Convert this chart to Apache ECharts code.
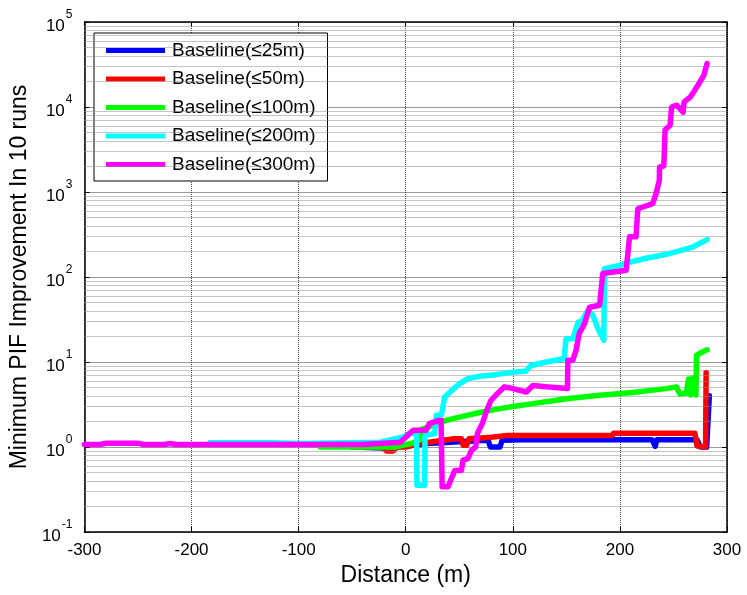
<!DOCTYPE html>
<html>
<head>
<meta charset="utf-8">
<script src="https://cdn.jsdelivr.net/npm/echarts@6/dist/echarts.min.js"></script>
<style>html,body{margin:0;padding:0;background:#fff;}#c{width:747px;height:595px;}</style>
</head>
<body>
<div id="c"></div>
<script>
const seriesNames = ['Baseline(≤25m)', 'Baseline(≤50m)', 'Baseline(≤100m)', 'Baseline(≤200m)', 'Baseline(≤300m)'];
const seriesColors = ['#0000ff', '#ff0000', '#00ff00', '#00ffff', '#ff00ff'];

const xTicks = [-300, -200, -100, 0, 100, 200, 300];
const yDecades = [-1, 0, 1, 2, 3, 4, 5];

const x25 = [-50, -20, -10, 0, 20, 50, 75, 77, 79, 88, 90, 110, 230, 231.5, 233, 234.5, 272, 275, 281, 282, 283.5];
const y25 = [1.0, 0.97, 1.0, 1.02, 1.1, 1.15, 1.2, 1.2, 1.0, 1.0, 1.2, 1.22, 1.22, 1.22, 1.02, 1.22, 1.22, 1.0, 1.0, 1.0, 4.0];

const x50 = [-50, -22, -18, -12, -8, 0, 10, 22, 45, 52, 53.5, 57, 59, 80, 95, 193, 194, 270, 272, 280, 280.5];
const y50 = [1.0, 1.0, 0.9, 0.9, 1.0, 1.0, 1.08, 1.14, 1.25, 1.25, 1.05, 1.05, 1.25, 1.3, 1.37, 1.37, 1.45, 1.45, 1.03, 1.0, 7.5];

const x100 = [-80, -40, -10, 5, 13, 14, 25, 31.7, 50, 69, 87.7, 100, 118.8, 150, 181, 212, 243, 252.6, 256, 262, 264, 266, 268, 271, 271.5, 277, 281.4];
const y100 = [1.0, 1.0, 1.0, 1.1, 1.2, 1.6, 1.8, 1.97, 2.25, 2.55, 2.83, 3.0, 3.24, 3.7, 4.06, 4.38, 4.86, 5.1, 4.2, 4.3, 6.3, 4.1, 6.5, 4.1, 12, 13.1, 13.9];

const x200 = [-183, -125, -100, -50, -24, -2.5, 3.7, 10, 10.5, 17.7, 18, 27, 28.6, 33.3, 36.4, 42.6, 50.4, 58, 69, 84, 100, 112, 117, 131, 148, 149.6, 156, 161, 164, 170, 174.8, 179.4, 185, 185.5, 187, 199.6, 205.8, 224.4, 246, 268, 281.4];
const y200 = [1.12, 1.12, 1.1, 1.12, 1.14, 1.31, 1.44, 1.44, 0.355, 0.355, 1.37, 1.44, 2.36, 2.4, 3.87, 4.6, 5.57, 6.38, 6.8, 7.1, 7.6, 7.8, 9.1, 10, 11, 18.8, 18.8, 29.5, 29.5, 40.5, 35.4, 24.7, 18, 125, 131, 137, 146, 166, 188, 225, 275];

const x300 = [-300, -285, -280, -250, -245, -225, -220, -215, -180, -100, -40, -24, -5, 0, 5, 7, 19, 22, 31, 33, 34, 39.5, 45.7, 52, 53.5, 58, 61.3, 65.3, 67, 71.6, 74.6, 79.3, 84, 92, 100, 112.6, 118.7, 131, 151, 151.4, 156, 159, 162, 167, 171.6, 181, 184, 205.8, 209, 215, 216.7, 230.6, 233.8, 236.8, 237, 241, 242.2, 246.8, 248.3, 253, 259, 260, 265.8, 269, 273.7, 278.3, 281.4];
const y300 = [1.07, 1.07, 1.11, 1.11, 1.07, 1.07, 1.1, 1.07, 1.07, 1.07, 1.07, 1.1, 1.14, 1.3, 1.5, 1.57, 1.57, 1.88, 2.06, 2.06, 0.34, 0.34, 0.53, 0.53, 0.70, 0.73, 0.91, 1.0, 1.45, 1.9, 2.47, 3.5, 4.06, 5.1, 4.87, 4.44, 5.3, 5.1, 4.87, 10.5, 10.5, 13.7, 21.6, 28.3, 44, 46.5, 110, 120, 297, 297, 635, 730, 960, 1380, 1960, 2030, 5380, 6070, 10000, 10500, 8700, 11500, 13100, 15100, 18800, 23500, 32400];

const allX = [x25, x50, x100, x200, x300];
const allY = [y25, y50, y100, y200, y300];

const FONT = 'Liberation Sans, Arial, sans-serif';

// minor grid values 2..9 x 10^k
const minorGrid = [];
for (let i = 0; i < yDecades.length - 1; i++) {
  for (let m = 2; m <= 9; m++) minorGrid.push(m * Math.pow(10, yDecades[i]));
}

const chart = echarts.init(document.getElementById('c'), null, {renderer: 'canvas'});

const dataSeries = seriesNames.map((n, i) => ({
  name: n,
  type: 'line',
  data: allX[i].map((x, j) => [x, allY[i][j]]),
  showSymbol: false,
  symbol: 'none',
  lineStyle: {color: seriesColors[i], width: 5.5, join: 'round', cap: 'round'},
  itemStyle: {color: seriesColors[i], borderWidth: 0},
  z: 3 + i,
  animation: false
}));

const minorSeries = {
  name: '__minor',
  type: 'line',
  data: [],
  z: 1,
  silent: true,
  animation: false,
  markLine: {
    silent: true,
    symbol: ['none', 'none'],
    label: {show: false},
    animation: false,
    lineStyle: {type: 'dotted', color: '#8c8c8c', width: 1},
    data: minorGrid.map(v => ({yAxis: v}))
  }
};

const yLabelFmt = v => {
  const e = Math.round(Math.log10(v));
  return '{b|10}{s|' + e + '}';
};
const yRich = {
  b: {fontSize: 17, fontFamily: FONT, color: '#000', lineHeight: 26, verticalAlign: 'bottom'},
  s: {fontSize: 12, fontFamily: FONT, color: '#000', lineHeight: 13, verticalAlign: 'top', padding: [0, 0, 0, 1]}
};

const option = {
  backgroundColor: '#fff',
  animation: false,
  grid: {left: 84, right: 20, top: 22, bottom: 63, containLabel: false},
  legend: {
    data: seriesNames,
    orient: 'vertical',
    left: 94,
    top: 33,
    icon: 'rect',
    itemWidth: 59,
    itemHeight: 5,
    itemGap: 9.5,
    padding: [8, 12, 7, 12],
    backgroundColor: '#fff',
    borderColor: '#000',
    borderWidth: 1,
    itemStyle: {borderWidth: 0},
    textStyle: {fontSize: 19, fontFamily: FONT, color: '#000', padding: [0, 0, 0, 2]},
    selectedMode: false
  },
  xAxis: [{
    type: 'value', min: xTicks[0], max: xTicks[xTicks.length - 1], interval: 100,
    position: 'bottom',
    name: 'Distance (m)', nameLocation: 'middle', nameGap: 21,
    nameTextStyle: {fontSize: 23, fontFamily: FONT, color: '#000', verticalAlign: 'top'},
    axisLine: {show: true, onZero: false, lineStyle: {color: '#000', width: 1.5}},
    axisTick: {show: true, inside: true, length: 5, lineStyle: {color: '#000'}},
    axisLabel: {fontSize: 17, fontFamily: FONT, color: '#000', margin: 10},
    splitLine: {show: true, lineStyle: {type: 'dotted', color: '#444', width: 1}}
  }, {
    type: 'value', min: xTicks[0], max: xTicks[xTicks.length - 1], interval: 100,
    position: 'top',
    axisLine: {show: true, onZero: false, lineStyle: {color: '#000', width: 1.5}},
    axisTick: {show: true, inside: true, length: 5, lineStyle: {color: '#000'}},
    axisLabel: {show: false},
    splitLine: {show: false}
  }],
  yAxis: [{
    type: 'log', logBase: 10, min: Math.pow(10, yDecades[0]), max: Math.pow(10, yDecades[yDecades.length - 1]),
    position: 'left',
    name: 'Minimum PIF Improvement In 10 runs', nameLocation: 'middle', nameGap: 46,
    nameTextStyle: {fontSize: 23, fontFamily: FONT, color: '#000'},
    axisLine: {show: true, onZero: false, lineStyle: {color: '#000', width: 1.5}},
    axisTick: {show: true, inside: true, length: 5, lineStyle: {color: '#000'}},
    axisLabel: {formatter: yLabelFmt, rich: yRich, margin: 12},
    splitLine: {show: true, lineStyle: {type: 'dotted', color: '#333', width: 1}}
  }, {
    type: 'log', logBase: 10, min: Math.pow(10, yDecades[0]), max: Math.pow(10, yDecades[yDecades.length - 1]),
    position: 'right',
    axisLine: {show: true, onZero: false, lineStyle: {color: '#000', width: 1.5}},
    axisTick: {show: true, inside: true, length: 5, lineStyle: {color: '#000'}},
    axisLabel: {show: false},
    splitLine: {show: false}
  }],
  series: [minorSeries].concat(dataSeries)
};
chart.setOption(option);
</script>
</body>
</html>
